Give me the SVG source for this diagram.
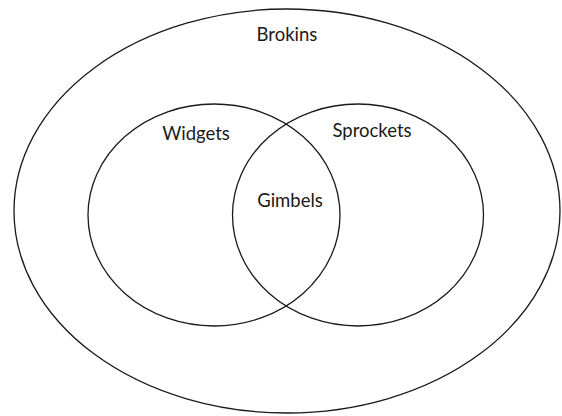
<svg xmlns="http://www.w3.org/2000/svg" width="562" height="416" viewBox="0 0 562 416">
<style>
.s{fill:none;stroke:#1a1a1a;stroke-width:1.3}
.t{font-family:Lato,"Open Sans","Liberation Sans",sans-serif;font-size:18.5px;fill:#1a1a1a;text-anchor:middle}
</style>
<rect width="562" height="416" fill="#fff"/>
<g id="brokins">
<ellipse class="s" cx="287" cy="211" rx="273" ry="202"/>
<text class="t" x="287" y="41">Brokins</text>
</g>
<g id="widgets">
<ellipse class="s" cx="214" cy="215" rx="126" ry="111"/>
<text class="t" x="196" y="140">Widgets</text>
</g>
<g id="sprockets">
<ellipse class="s" cx="358" cy="215" rx="125.5" ry="111"/>
<text class="t" x="372" y="137">Sprockets</text>
</g>
<g id="gimbels">
<text class="t" x="290" y="207">Gimbels</text>
</g>
<g id="connectors"/>
</svg>
